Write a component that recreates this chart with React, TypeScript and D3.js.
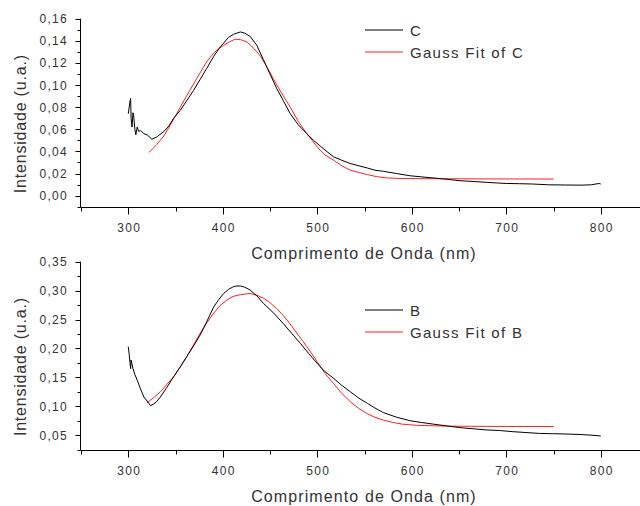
import React from "react";
import * as d3 from "d3";

// wavelength (nm) / intensity
const cWave = [300, 301, 302, 302.5, 303, 304, 305, 306, 307, 308, 309.5, 311, 313, 316.5, 320, 325, 330, 337.7, 343, 348, 355, 362, 369, 376, 383, 390.5, 396, 401, 406, 411.6, 415, 418.7, 423, 429, 436, 443, 450, 457, 464, 471.5, 480, 489, 496, 503, 510, 517.5, 526, 535, 544, 553, 561, 570, 584, 598, 610, 623, 637, 651, 665, 679, 690, 700, 714, 728, 745, 763, 780, 790, 798, 800];
const cVal = [0.074, 0.08, 0.086, 0.088, 0.07, 0.062, 0.075, 0.07, 0.06, 0.055, 0.062, 0.058, 0.059, 0.056, 0.055, 0.051, 0.053, 0.058, 0.063, 0.07, 0.077, 0.086, 0.095, 0.105, 0.115, 0.126, 0.133, 0.138, 0.143, 0.146, 0.147, 0.148, 0.147, 0.144, 0.136, 0.123, 0.11, 0.097, 0.086, 0.074, 0.064, 0.056, 0.05, 0.045, 0.04, 0.035, 0.032, 0.029, 0.027, 0.025, 0.023, 0.022, 0.02, 0.018, 0.017, 0.016, 0.0148, 0.0135, 0.0128, 0.012, 0.0115, 0.011, 0.0108, 0.0105, 0.0098, 0.0096, 0.0095, 0.0098, 0.011, 0.0105];
const cFitWave = [321.8, 330, 337.7, 346, 355, 365, 376, 383, 390.5, 396, 401, 407, 413, 419, 425.7, 433, 440, 447, 454, 462, 471.5, 480, 489, 500, 508, 517.5, 526, 535, 544, 553, 563, 574, 590, 606, 650, 700, 750];
const cFitVal = [0.039, 0.046, 0.054, 0.066, 0.08, 0.095, 0.111, 0.121, 0.129, 0.133, 0.136, 0.139, 0.1415, 0.141, 0.139, 0.133, 0.126, 0.116, 0.105, 0.093, 0.08, 0.067, 0.056, 0.044, 0.037, 0.032, 0.027, 0.023, 0.021, 0.019, 0.0172, 0.016, 0.0155, 0.0154, 0.0152, 0.0151, 0.015];

const bWave = [300, 301, 302.5, 303, 305, 307, 309.5, 313, 316.5, 320, 321.8, 323.6, 327, 330, 334, 341, 348, 355, 362, 369, 376, 383, 390.5, 396, 401, 406, 411.6, 415, 418.7, 423, 429, 436, 443, 454, 464, 473, 482, 491, 500, 508, 517.5, 526, 535, 544, 553, 561, 570, 584, 598, 610, 623, 637, 651, 665, 679, 693, 707, 721, 735, 749, 763, 780, 798, 800];
const bVal = [0.203, 0.19, 0.165, 0.18, 0.165, 0.155, 0.145, 0.13, 0.116, 0.109, 0.105, 0.101, 0.104, 0.108, 0.116, 0.133, 0.151, 0.168, 0.186, 0.204, 0.223, 0.246, 0.272, 0.285, 0.295, 0.302, 0.307, 0.308, 0.308, 0.306, 0.301, 0.291, 0.278, 0.261, 0.243, 0.226, 0.209, 0.191, 0.174, 0.16, 0.148, 0.136, 0.125, 0.114, 0.105, 0.097, 0.089, 0.081, 0.075, 0.072, 0.069, 0.066, 0.063, 0.061, 0.059, 0.058, 0.056, 0.0545, 0.053, 0.0525, 0.052, 0.051, 0.049, 0.0485];
const bFitWave = [320, 327, 334, 341, 348, 355, 362, 369, 376, 383, 390.5, 397, 404.6, 411, 418.7, 424, 429, 436, 443, 450, 457, 464, 471, 480, 489, 500, 508, 517.5, 526, 535, 544, 553, 561, 570, 580, 590, 605, 640, 700, 750];
const bFitVal = [0.106, 0.115, 0.125, 0.138, 0.151, 0.168, 0.186, 0.206, 0.226, 0.244, 0.261, 0.274, 0.284, 0.29, 0.293, 0.294, 0.295, 0.292, 0.287, 0.279, 0.269, 0.257, 0.243, 0.223, 0.203, 0.177, 0.157, 0.139, 0.122, 0.108, 0.096, 0.087, 0.081, 0.076, 0.072, 0.069, 0.067, 0.0655, 0.065, 0.065];

const xTicks = [300, 400, 500, 600, 700, 800];
const xMinor = [250, 350, 450, 550, 650, 750, 850];
const cTicks = [0, 0.02, 0.04, 0.06, 0.08, 0.1, 0.12, 0.14, 0.16];
const cMinor = [-0.01, 0.01, 0.03, 0.05, 0.07, 0.09, 0.11, 0.13, 0.15];
const bTicks = [0.05, 0.1, 0.15, 0.2, 0.25, 0.3, 0.35];
const bMinor = [0.025, 0.075, 0.125, 0.175, 0.225, 0.275, 0.325];

const fmt = (v: number, d: number) => v.toFixed(d).replace(".", ",");
const font = "'Liberation Sans', Arial, sans-serif";
const txt = "#333";

type PanelProps = {
  top: number;
  bottom: number;
  yDomain: [number, number];
  ticks: number[];
  minor: number[];
  wave: number[];
  vals: number[];
  fitWave: number[];
  fitVals: number[];
  name: string;
  legendY: number;
};

function Panel(p: PanelProps) {
  const x = d3.scaleLinear().domain([250, 850]).range([81, 648]);
  const y = d3.scaleLinear().domain(p.yDomain).range([p.bottom, p.top]);
  const line = d3
    .line<[number, number]>()
    .x((d) => x(d[0]))
    .y((d) => y(d[1]));
  const data = p.wave.map((w, i) => [w, p.vals[i]] as [number, number]);
  const fit = p.fitWave.map((w, i) => [w, p.fitVals[i]] as [number, number]);
  const x0 = 80.5;
  const yb = Math.round(p.bottom) + 0.5;

  return (
    <g>
      <path d={line(fit) || ""} fill="none" stroke="#ff2020" strokeWidth={1} />
      <path d={line(data) || ""} fill="none" stroke="#000" strokeWidth={1} />

      {/* axes */}
      <line x1={x0} x2={x0} y1={p.top} y2={yb} stroke="#000" />
      <line x1={x0} x2={640} y1={yb} y2={yb} stroke="#000" />
      {xTicks.map((t) => (
        <g key={"xt" + t}>
          <line x1={Math.round(x(t)) + 0.5} x2={Math.round(x(t)) + 0.5} y1={yb} y2={yb + 7} stroke="#000" />
          <text x={x(t) + 1} y={yb + 24} textAnchor="middle" fontSize={12} letterSpacing={1.3} fill={txt} fontFamily={font}>
            {t}
          </text>
        </g>
      ))}
      {xMinor.map((t) => (
        <line key={"xm" + t} x1={Math.round(x(t)) + 0.5} x2={Math.round(x(t)) + 0.5} y1={yb} y2={yb + 4} stroke="#000" />
      ))}
      {p.ticks.map((t) => (
        <g key={"yt" + t}>
          <line x1={x0 - 5} x2={x0} y1={Math.round(y(t)) + 0.5} y2={Math.round(y(t)) + 0.5} stroke="#000" />
          <text x={68} y={y(t) + 4.5} textAnchor="end" fontSize={12} letterSpacing={1.3} fill={txt} fontFamily={font}>
            {fmt(t, 2)}
          </text>
        </g>
      ))}
      {p.minor.map((t) => (
        <line key={"ym" + t} x1={x0 - 3} x2={x0} y1={Math.round(y(t)) + 0.5} y2={Math.round(y(t)) + 0.5} stroke="#000" />
      ))}

      {/* titles */}
      <text x={364} y={yb + 51} textAnchor="middle" fontSize={16} letterSpacing={1.1} fill={txt} fontFamily={font}>
        Comprimento de Onda (nm)
      </text>
      <text
        transform={`translate(26, ${(p.top + p.bottom) / 2 + 11}) rotate(-90)`}
        textAnchor="middle"
        fontSize={16}
        letterSpacing={0.8}
        fill={txt}
        fontFamily={font}
      >
        Intensidade (u.a.)
      </text>

      {/* legend */}
      <line x1={365} x2={403} y1={p.legendY} y2={p.legendY} stroke="#000" />
      <text x={410} y={p.legendY + 5.5} fontSize={15} letterSpacing={1.3} fill={txt} fontFamily={font}>
        {p.name}
      </text>
      <line x1={365} x2={403} y1={p.legendY + 22} y2={p.legendY + 22} stroke="#ff2020" />
      <text x={410} y={p.legendY + 27.5} fontSize={15} letterSpacing={1.3} fill={txt} fontFamily={font}>
        Gauss Fit of {p.name}
      </text>
    </g>
  );
}

export default function App() {
  return (
    <svg
      width={640}
      height={506}
      style={{ position: "absolute", left: 0, top: 0, background: "#fff" }}
    >
      <Panel
        top={18.7}
        bottom={206.7}
        yDomain={[-0.01, 0.16]}
        ticks={cTicks}
        minor={cMinor}
        wave={cWave}
        vals={cVal}
        fitWave={cFitWave}
        fitVals={cFitVal}
        name="C"
        legendY={30}
      />
      <Panel
        top={261.7}
        bottom={449.6}
        yDomain={[0.025, 0.35]}
        ticks={bTicks}
        minor={bMinor}
        wave={bWave}
        vals={bVal}
        fitWave={bFitWave}
        fitVals={bFitVal}
        name="B"
        legendY={310}
      />
    </svg>
  );
}
